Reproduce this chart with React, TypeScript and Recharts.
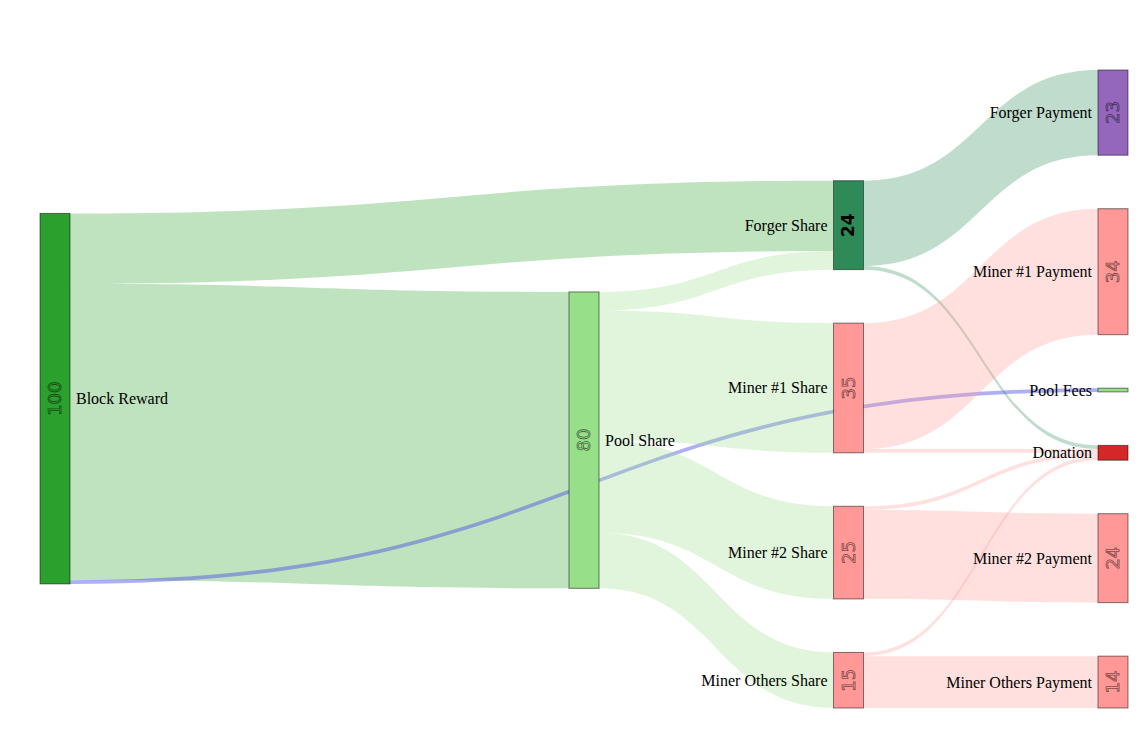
import React from 'react';
import { Sankey } from 'recharts';

// node names; the last two ("") are hidden helpers that push Pool Share to the middle column
const NODE_NAMES = [
  'Block Reward',
  'Pool Share',
  'Forger Share',
  'Miner #1 Share',
  'Miner #2 Share',
  'Miner Others Share',
  'Forger Payment',
  'Miner #1 Payment',
  'Pool Fees',
  'Donation',
  'Miner #2 Payment',
  'Miner Others Payment',
  '',
  '',
];

const LINK_SOURCES = [0, 0, 0, 1, 1, 1, 1, 2, 2, 3, 3, 4, 4, 5, 5, 12, 13];
const LINK_TARGETS = [2, 1, 8, 2, 3, 4, 5, 6, 9, 7, 9, 9, 10, 9, 11, 13, 1];
const LINK_VALUES = [19, 80, 1, 5, 35, 25, 15, 23, 1, 34, 1, 1, 24, 1, 14, 1e-6, 1e-6];

const NODE_COLORS = [
  '#2ca02c', '#98df8a', '#2e8b57', '#ff9896', '#ff9896', '#ff9896',
  '#9467bd', '#ff9896', '#98df8a', '#d62728', '#ff9896', '#ff9896', 'none', 'none',
];
const BLUE = '#4040e8';

const data = {
  nodes: NODE_NAMES.map((name) => ({ name })),
  links: LINK_VALUES.map((value, i) => ({
    source: LINK_SOURCES[i],
    target: LINK_TARGETS[i],
    value,
  })),
};

const Link = (props: any) => {
  const { sourceX, targetX, sourceY, targetY, sourceControlX, targetControlX, linkWidth, index } = props;
  if (!NODE_NAMES[LINK_SOURCES[index]]) return <g />;
  const blue = LINK_SOURCES[index] === 0 && LINK_TARGETS[index] === 8;
  const color = blue ? BLUE : NODE_COLORS[LINK_SOURCES[index]];
  const h = linkWidth / 2;
  const d = `M${sourceX},${sourceY - h}C${sourceControlX},${sourceY - h} ${targetControlX},${targetY - h} ${targetX},${targetY - h}` +
    `L${targetX},${targetY + h}C${targetControlX},${targetY + h} ${sourceControlX},${sourceY + h} ${sourceX},${sourceY + h}Z`;
  return <path d={d} fill={color} fillOpacity={blue ? 0.42 : 0.3} stroke="none" />;
};

const Node = (props: any) => {
  const { x, y, width, height, index, payload } = props;
  if (!payload.name) return <g />;
  const color = NODE_COLORS[index];
  const leftSide = payload.depth <= 2;
  const cx = x + width / 2;
  const cy = y + height / 2;
  const bold = payload.name === 'Forger Share';
  return (
    <g>
      <rect x={x} y={y} width={width} height={height} fill={color} stroke="rgba(0,0,0,0.5)" strokeWidth={1} />
      {height > 20 && (
        <text
          x={cx}
          y={cy}
          transform={`rotate(-90 ${cx} ${cy})`}
          textAnchor="middle"
          dominantBaseline="central"
          fontFamily="DejaVu Sans"
          fontSize={bold ? 17 : 18}
          fontWeight={bold ? 'bold' : 'normal'}
          fill={bold ? '#000' : color}
          stroke={bold ? 'none' : 'rgba(0,0,0,0.55)'}
          strokeWidth={0.8}
        >
          {Math.round(payload.value)}
        </text>
      )}
      <text
        x={leftSide ? x + width + 6 : x - 6}
        y={cy}
        textAnchor={leftSide ? 'start' : 'end'}
        dominantBaseline="central"
        fontFamily="Liberation Serif"
        fontSize={16}
        fill="#000"
      >
        {payload.name}
      </text>
    </g>
  );
};

export default function App() {
  return (
    <div style={{ position: 'absolute', left: 0, top: 0, background: '#fff' }}>
      <Sankey
        width={1138}
        height={738}
        data={data}
        nodeWidth={30}
        nodePadding={53.5}
        iterations={400}
        sort={false}
        linkCurvature={0.5}
        margin={{ top: 70, right: 10, bottom: 30, left: 40 }}
        node={<Node />}
        link={<Link />}
      />
    </div>
  );
}
